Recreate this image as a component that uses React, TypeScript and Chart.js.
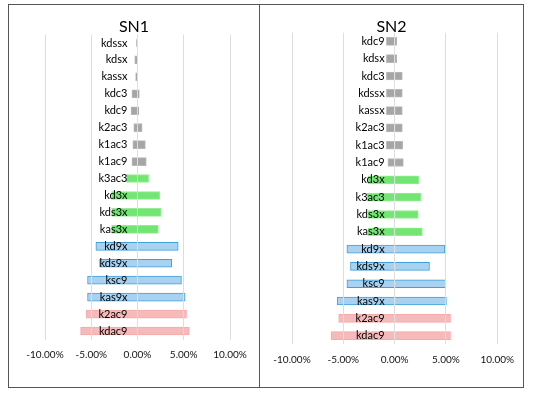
import React, { useEffect, useRef } from "react";
import { Chart, registerables } from "chart.js";
Chart.register(...registerables);

// SN1 (top to bottom)
const sn1Labels = ["kdssx","kdsx","kassx","kdc3","kdc9","k2ac3","k1ac3","k1ac9","k3ac3","kd3x","kds3x","kas3x","kd9x","kds9x","ksc9","kas9x","k2ac9","kdac9"];
const sn1Neg = [-0.1,-0.3,-0.2,-0.6,-0.7,-0.4,-0.5,-0.6,-1.2,-2.8,-2.8,-2.8,-4.5,-4.1,-5.4,-5.4,-5.55,-6.15];
const sn1Pos = [0.05,0.05,0.05,0.2,0.15,0.5,0.85,0.95,1.2,2.4,2.55,2.25,4.4,3.7,4.75,5.15,5.3,5.6];
const sn1Group = ["g","g","g","g","g","g","g","g","n","n","n","n","b","b","b","b","p","p"];

// SN2 (top to bottom)
const sn2Labels = ["kdc9","kdsx","kdc3","kdssx","kassx","k2ac3","k1ac3","k1ac9","kd3x","k3ac3","kds3x","kas3x","kd9x","kds9x","ksc9","kas9x","k2ac9","kdac9"];
const sn2Neg = [-0.8,-0.8,-0.8,-0.8,-0.8,-0.8,-0.8,-0.65,-2.6,-2.7,-2.6,-2.6,-4.65,-4.3,-4.65,-5.6,-5.45,-6.2];
const sn2Pos = [0.2,0.2,0.75,0.75,0.75,0.75,0.8,0.85,2.35,2.55,2.3,2.7,4.9,3.4,5.0,5.05,5.45,5.45];
const sn2Group = ["g","g","g","g","g","g","g","g","n","n","n","n","b","b","b","b","p","p"];

const xTicks = [-10, -5, 0, 5, 10];

const fills: Record<string, string> = { g: "#a6a6a6", n: "#72e572", b: "#a9d2f1", p: "#f7baba" };
const borders: Record<string, string> = { g: "#b8b8b8", n: "#95ee95", b: "#3fa0d9", p: "#f3aaaa" };

type PanelProps = {
  title: string; labels: string[]; neg: number[]; pos: number[]; group: string[];
  width: number; height: number; padL: number; padR: number; padT: number; axisH: number;
};

function Panel(p: PanelProps) {
  const ref = useRef<HTMLCanvasElement>(null);
  useEffect(() => {
    const ctx = ref.current!;
    const overlay = {
      id: "overlay",
      afterDraw(chart: any) {
        const c = chart.ctx;
        const xs = chart.scales.x, ys = chart.scales.y;
        c.save();
        c.fillStyle = "#000";
        c.font = "11px Lato";
        c.textAlign = "right";
        c.textBaseline = "middle";
        const x0 = xs.getPixelForValue(0);
        p.labels.forEach((l, i) => {
          c.fillText(l, x0 - 10, ys.getPixelForValue(i));
        });
        c.font = "16px Lato";
        c.textAlign = "center";
        c.textBaseline = "alphabetic";
        c.fillText(p.title, chart.width / 2, 27);
        c.restore();
      },
    };
    const mk = (data: number[]) => ({
      data,
      backgroundColor: p.group.map((g) => fills[g]),
      borderColor: p.group.map((g) => borders[g]),
      borderWidth: 1,
      borderSkipped: "start",
      barThickness: 8,
      stack: "s",
    });
    const chart = new Chart(ctx, {
      type: "bar",
      data: { labels: p.labels, datasets: [mk(p.neg), mk(p.pos)] },
      options: {
        indexAxis: "y",
        animation: false,
        responsive: false,
        layout: { padding: { left: p.padL, right: p.padR, top: p.padT, bottom: 0 } },
        plugins: { legend: { display: false }, tooltip: { enabled: false }, title: { display: false } },
        scales: {
          x: {
            min: -10, max: 10,
            afterBuildTicks: (s: any) => { s.ticks = xTicks.map((v) => ({ value: v })); },
            afterFit: (s: any) => { s.height = p.axisH; },
            ticks: {
              callback: (v: any) => Number(v).toFixed(2) + "%",
              color: "#111",
              font: { family: "Lato", size: 10 },
              padding: 9,
              maxRotation: 0,
            },
            grid: { color: "#dedede", drawTicks: false, z: 1 },
            border: { display: false },
          },
          y: { display: false, stacked: true },
        },
      },
      plugins: [overlay],
    } as any);
    return () => chart.destroy();
  }, []);
  return <canvas ref={ref} width={p.width} height={p.height} style={{ display: "block" }} />;
}

export default function App() {
  return (
    <div style={{ position: "absolute", left: 0, top: 0, width: 535, height: 395, background: "#fff" }}>
      <div style={{ position: "absolute", left: 8, top: 4, width: 250, height: 382, border: "1px solid #555", background: "#fff" }}>
        <Panel title="SN1" labels={sn1Labels} neg={sn1Neg} pos={sn1Pos} group={sn1Group}
          width={250} height={382} padL={36} padR={29} padT={29.5} axisH={47.5} />
      </div>
      <div style={{ position: "absolute", left: 260, top: 4, width: 263, height: 382, borderTop: "1px solid #555", borderRight: "1px solid #555", borderBottom: "1px solid #555", background: "#fff" }}>
        <Panel title="SN2" labels={sn2Labels} neg={sn2Neg} pos={sn2Pos} group={sn2Group}
          width={263} height={382} padL={32} padR={24} padT={27.7} axisH={42.7} />
      </div>
    </div>
  );
}
